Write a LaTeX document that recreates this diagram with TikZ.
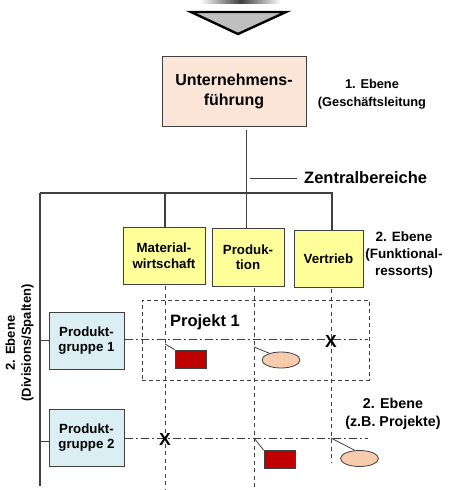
\documentclass[tikz,border=0pt]{standalone}
\usepackage{fontspec}
\setmainfont{Liberation Sans}
\usetikzlibrary{shapes.geometric}
\definecolor{leadfill}{HTML}{FBE5D6}
\definecolor{funcfill}{HTML}{FFFF99}
\definecolor{divfill}{HTML}{DAEEF3}
\definecolor{taskred}{HTML}{C00000}
\definecolor{taskpeach}{HTML}{F8CBAD}
\definecolor{ink}{HTML}{404040}
\begin{document}
\begin{tikzpicture}[x=1pt,y=-1pt,
  treeline/.style={draw=ink, line width=1.1pt},
  thinline/.style={draw=ink, line width=0.8pt},
  matrixline/.style={draw=ink, line width=0.9pt, dash pattern=on 4pt off 3.5pt},
  dashdotline/.style={draw=ink, line width=0.9pt, dash pattern=on 8pt off 3pt on 2pt off 3pt},
  unitbox/.style={draw=ink, line width=1pt, align=center, inner sep=0pt,
    font=\bfseries\fontsize{13.3}{15.5}\selectfont},
  levellabel/.style={align=center, inner sep=0pt,
    font=\bfseries\fontsize{13}{16}\selectfont},
  redtask/.style={draw=ink, line width=0.8pt, fill=taskred, minimum width=31pt, minimum height=18pt, inner sep=0pt},
  peachtask/.style={ellipse, draw=ink, line width=0.8pt, fill=taskpeach, minimum width=38pt, minimum height=16pt, inner sep=0pt},
  crossmark/.style={inner sep=0pt, font=\bfseries\fontsize{17.5}{17.5}\selectfont}
]
\useasboundingbox (0,0) rectangle (448,490);

% arrow from above
\shade[left color=white, right color=white, middle color=black!75] (200,0) rectangle (281,3);
\draw[line width=2.4pt, fill=black!25, line join=miter] (191,12) -- (286,12) -- (238,34) -- cycle;

% top management
\node[unitbox, fill=leadfill, minimum width=144pt, minimum height=70pt,
      font=\bfseries\fontsize{16}{20}\selectfont] (lead) at (234,91) {Unternehmens-\\führung};
\node[levellabel, font=\bfseries\fontsize{12.8}{18}\selectfont] (lvl1) at (372,94) {1. Ebene\\(Geschäftsleitung};

% functional departments
\node[unitbox, fill=funcfill, minimum width=82pt, minimum height=57pt] (mat) at (164,255.5) {Material-\\wirtschaft};
\node[unitbox, fill=funcfill, minimum width=72pt, minimum height=58pt] (prod) at (248,257) {Produk-\\tion};
\node[unitbox, fill=funcfill, minimum width=69pt, minimum height=57pt] (sales) at (328.5,258.5) {Vertrieb};
\node[levellabel, font=\bfseries\fontsize{13.5}{17}\selectfont] (lvl2a) at (404,255.5) {2. Ebene\\(Funktional-\\ressorts)};

% tree connections
\coordinate (trunk) at (246.5,130);
\coordinate (barleft) at (40,193);
\coordinate (barright) at (332,193);
\coordinate (leftend) at (40,486);
\draw[treeline] (trunk) -- (trunk |- prod.north);
\draw[treeline] (barleft) -- (barright) -- (barright |- sales.north);
\draw[treeline] (165,193) -- (165,227);
\draw[treeline] (barleft) -- (leftend);

% central units
\coordinate (zbl) at (250,178);
\coordinate (zbr) at (297,178);
\draw[thinline] (zbl) -- (zbr);
\node[anchor=west, inner sep=0pt, font=\bfseries\fontsize{16.5}{18}\selectfont] (zb) at (304,178) {Zentralbereiche};

% divisions
\node[unitbox, fill=divfill, minimum width=75pt, minimum height=57pt] (pg1) at (86.5,340.5) {Produkt-\\gruppe 1};
\node[unitbox, fill=divfill, minimum width=75pt, minimum height=57pt] (pg2) at (86.5,437.5) {Produkt-\\gruppe 2};
\draw[treeline] (barleft |- pg1.west) -- (pg1.west);
\draw[treeline] (40,441.5) -- (pg2.west |- 0,441.5);
\node[levellabel, rotate=90] (lvldiv) at (19.5,343) {2. Ebene\\(Divisions/Spalten)};

% project frame
\node[draw=ink, line width=0.9pt, dash pattern=on 4pt off 3pt, minimum width=227pt, minimum height=80pt, inner sep=0pt] (proj) at (255.5,340) {};
\node[inner sep=0pt, font=\bfseries\fontsize{16.5}{18}\selectfont] (projlbl) at (205,322) {Projekt 1};

% matrix lines
\coordinate (m1) at (165,286);
\coordinate (m1e) at (165,490);
\coordinate (m2) at (254,288);
\coordinate (m2e) at (254,490);
\coordinate (m3) at (331,289);
\coordinate (m3e) at (331,463);
\draw[matrixline] (m1) -- (m1e);
\draw[matrixline] (m2) -- (m2e);
\draw[matrixline] (m3) -- (m3e);
\coordinate (r1e) at (368,339);
\coordinate (r2e) at (368,438);
\draw[dashdotline] (pg1.east |- r1e) -- (r1e);
\draw[dashdotline] (pg2.east |- r2e) -- (r2e);

\node[crossmark] (x1) at (331,341) {X};
\node[crossmark] (x2) at (165,439) {X};

% tasks
\node[redtask] (t1) at (190.5,359) {};
\node[peachtask] (e1) at (281,360) {};
\node[redtask] (t2) at (279.5,459.5) {};
\node[peachtask] (e2) at (359.5,458.5) {};
\coordinate (c1) at (165,344);
\coordinate (c2) at (254,347);
\coordinate (c3) at (254,438);
\coordinate (c4) at (331,438);
\draw[thinline] (c1) -- (t1.north west);
\draw[thinline] (c2) -- (e1.150);
\draw[thinline] (c3) -- (t2.north west);
\draw[thinline] (c4) -- (e2.120);

\node[levellabel, font=\bfseries\fontsize{14.3}{18}\selectfont] (lvl2b) at (393,414) {2. Ebene\\(z.B. Projekte)};
\end{tikzpicture}
\end{document}
